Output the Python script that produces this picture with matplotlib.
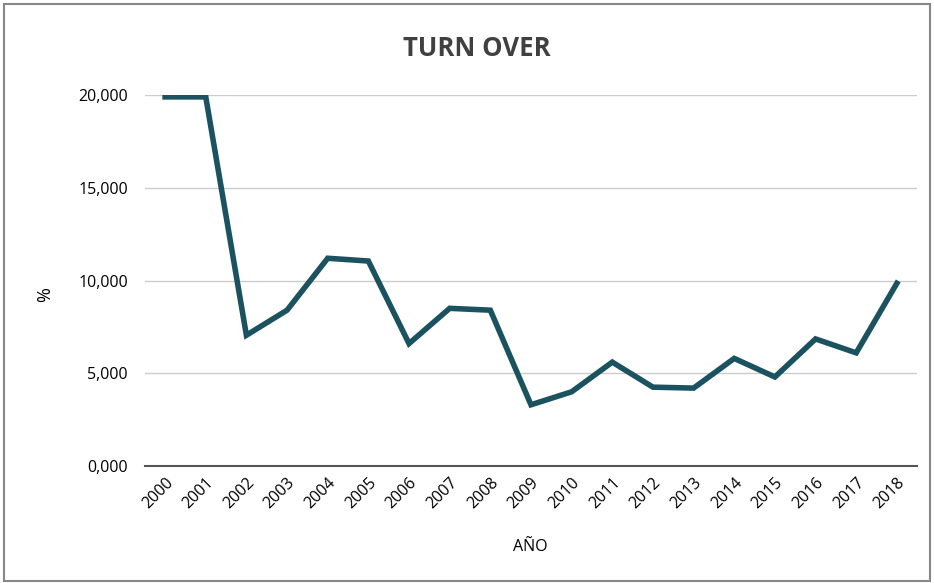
import matplotlib.pyplot as plt
from matplotlib.patches import Rectangle
from matplotlib.ticker import FuncFormatter

# Data
years = [str(y) for y in range(2000, 2019)]
turnover = [19900, 19900, 7050, 8400, 11200, 11050, 6600, 8500, 8400, 3300,
            4000, 5600, 4250, 4200, 5800, 4800, 6850, 6100, 9850]

plt.rcParams['font.family'] = ['Open Sans', 'DejaVu Sans']

fig = plt.figure(figsize=(9.34, 5.83), dpi=100)
ax = fig.add_axes([0.155, 0.2007, 0.827, 0.6363])

x = range(len(years))
ax.plot(x, turnover, color='#1b5260', linewidth=4, solid_joinstyle='miter')

ax.set_xlim(-0.5, len(years) - 0.5)
ax.set_ylim(0, 20000)
ax.set_yticks([0, 5000, 10000, 15000, 20000])
ax.yaxis.set_major_formatter(FuncFormatter(lambda v, p: f"{v/1000:.3f}".replace('.', ',')))
ax.set_xticks(list(x))
ax.set_xticklabels(years, rotation=45, ha='right', rotation_mode='anchor', fontsize=11.5)
ax.tick_params(axis='y', length=0, labelsize=11.5, pad=12)
ax.tick_params(axis='x', length=0, pad=6)
ax.grid(axis='y', color='#cccccc', linewidth=1)
ax.set_axisbelow(True)
for s in ['top', 'right', 'left']:
    ax.spines[s].set_visible(False)
ax.spines['bottom'].set_color('#555555')
ax.spines['bottom'].set_linewidth(1.5)

fig.text(0.510, 0.917, 'TURN OVER', ha='center', va='center',
         fontsize=18.5, fontweight='bold', color='#404040')
fig.text(0.048, 0.495, '%', ha='center', va='center', rotation=90, fontsize=13)
fig.text(0.568, 0.062, 'AÑO', ha='center', va='center', fontsize=11.5)

fig.patches.append(Rectangle((0.004, 0.003), 0.992, 0.99, transform=fig.transFigure,
                             fill=False, edgecolor='#888888', linewidth=1.5))

fig.savefig('out.png', dpi=100)
